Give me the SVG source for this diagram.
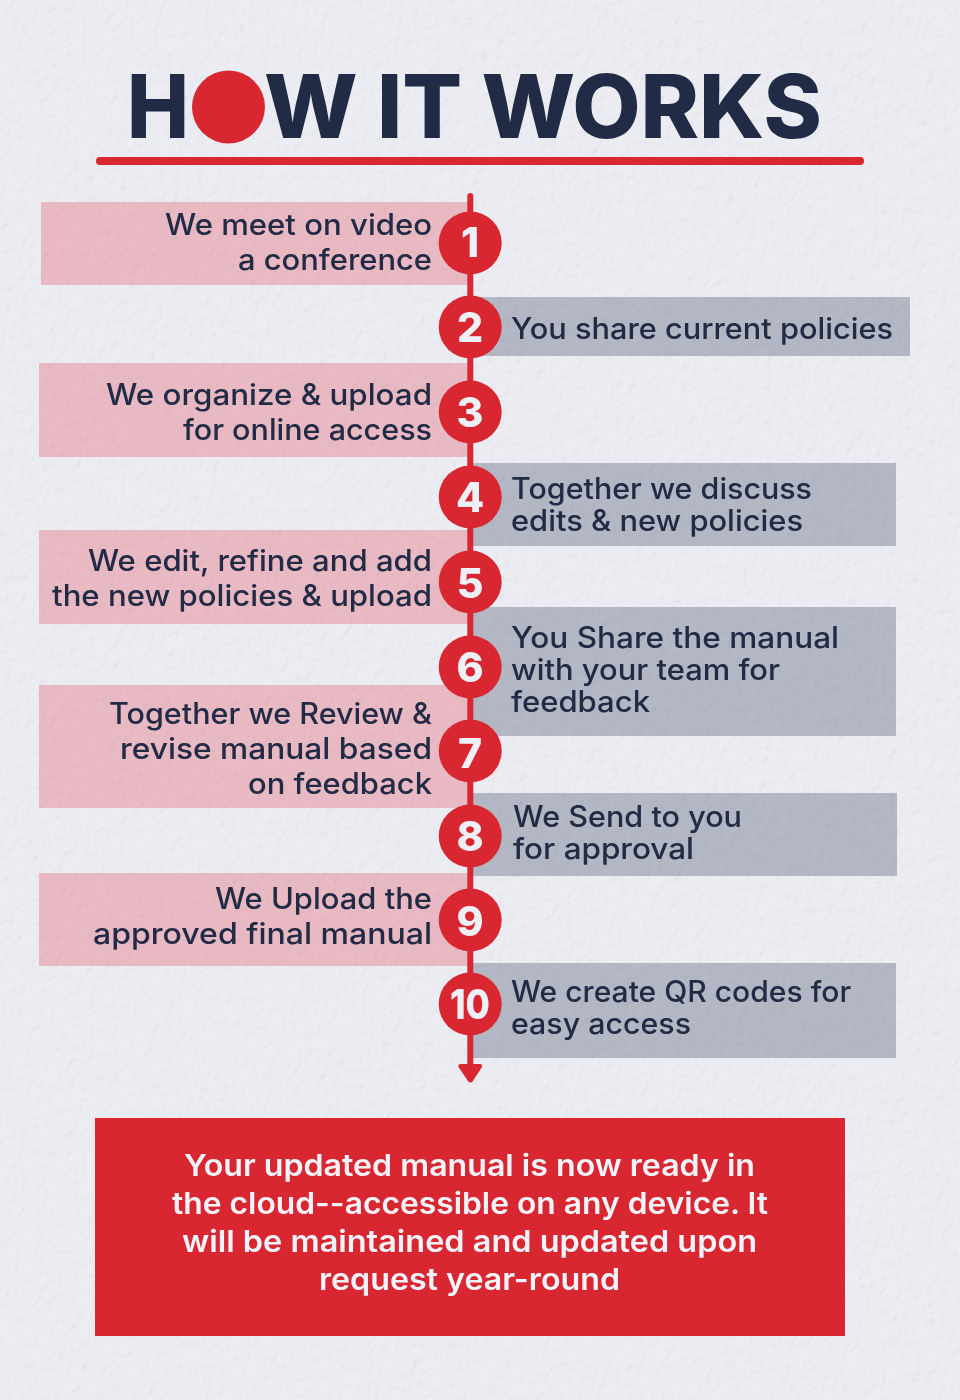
<svg xmlns="http://www.w3.org/2000/svg" width="960" height="1400" viewBox="0 0 960 1400">
<style>
text{font-family:"Inter","Open Sans","Liberation Sans",sans-serif}
.t{font-size:29.500px;font-weight:450;fill:#222b45}
.n{font-size:41px;font-weight:800;fill:#eef0f6;text-anchor:middle}
.f{font-size:30px;font-weight:600;fill:#f2f3f8}
.h{font-size:88px;font-weight:800;fill:#222b45}
.p{fill:#e9bac3}
.g{fill:#b4b8c5}
.c{fill:#d92731}
</style>
<defs>
<filter id="paper" x="0" y="0" width="100%" height="100%">
<feTurbulence type="fractalNoise" baseFrequency="0.13 0.09" numOctaves="3" seed="4"/>
<feDiffuseLighting surfaceScale="0.5" lighting-color="#ffffff" diffuseConstant="1.13"><feDistantLight azimuth="60" elevation="62"/></feDiffuseLighting>
</filter>
</defs>
<rect width="960" height="1400" fill="#ebedf2"/>
<g id="bands">
<rect class="p" x="41" y="202" width="429" height="83"/>
<rect class="g" x="470" y="297" width="440" height="59"/>
<rect class="p" x="39" y="363" width="431" height="94"/>
<rect class="g" x="470" y="463" width="426" height="83"/>
<rect class="p" x="39" y="530" width="431" height="94"/>
<rect class="g" x="470" y="607" width="426" height="129"/>
<rect class="p" x="39" y="685" width="431" height="123"/>
<rect class="g" x="470" y="793" width="427" height="83"/>
<rect class="p" x="39" y="873" width="431" height="93"/>
<rect class="g" x="470" y="963" width="426" height="95"/>
</g>
<rect width="960" height="1400" filter="url(#paper)" style="mix-blend-mode:multiply"/>
<g id="title">
<text class="h" x="127" y="138" textLength="62" lengthAdjust="spacingAndGlyphs">H</text>
<circle class="c" cx="228.500" cy="107" r="36.500"/>
<text class="h" x="264" y="138" textLength="558" lengthAdjust="spacingAndGlyphs">W IT WORKS</text>
<rect class="c" x="96" y="157" width="768" height="8" rx="4"/>
</g>
<g id="connectors">
<path d="M470.300 196V1070" stroke="#d92731" stroke-width="6" stroke-linecap="round" fill="none"/>
<path d="M460.500 1064H480a2.200 2.200 0 0 1 1.700 3.600L472.500 1081.500a2.600 2.600 0 0 1-4.200 0L458.800 1067.600a2.200 2.200 0 0 1 1.700-3.600Z" fill="#d92731"/>
</g>
<g id="step1"><circle class="c" cx="470.200" cy="243" r="31.500"/><text class="n" x="470" y="257">1</text>
<text class="t" x="165" y="234.500" textLength="267" lengthAdjust="spacingAndGlyphs">We meet on video</text><text class="t" x="238" y="269.500" textLength="194" lengthAdjust="spacingAndGlyphs">a conference</text></g>
<g id="step2"><circle class="c" cx="470.200" cy="327" r="31.500"/><text class="n" x="470" y="342">2</text>
<text class="t" x="511" y="339" textLength="382" lengthAdjust="spacingAndGlyphs">You share current policies</text></g>
<g id="step3"><circle class="c" cx="470.200" cy="412" r="31.500"/><text class="n" x="470" y="427">3</text>
<text class="t" x="106" y="404.500" textLength="326" lengthAdjust="spacingAndGlyphs">We organize &amp; upload</text><text class="t" x="183" y="439.500" textLength="249" lengthAdjust="spacingAndGlyphs">for online access</text></g>
<g id="step4"><circle class="c" cx="470.200" cy="497" r="31.500"/><text class="n" x="470" y="512">4</text>
<text class="t" x="511" y="499" textLength="301" lengthAdjust="spacingAndGlyphs">Together we discuss</text><text class="t" x="511" y="531" textLength="292" lengthAdjust="spacingAndGlyphs">edits &amp; new policies</text></g>
<g id="step5"><circle class="c" cx="470.200" cy="582" r="31.500"/><text class="n" x="470" y="598">5</text>
<text class="t" x="88" y="570.500" textLength="344" lengthAdjust="spacingAndGlyphs">We edit, refine and add</text><text class="t" x="52" y="605.500" textLength="380" lengthAdjust="spacingAndGlyphs">the new policies &amp; upload</text></g>
<g id="step6"><circle class="c" cx="470.200" cy="667" r="31.500"/><text class="n" x="470" y="682">6</text>
<text class="t" x="511" y="648" textLength="328" lengthAdjust="spacingAndGlyphs">You Share the manual</text><text class="t" x="511" y="680" textLength="269" lengthAdjust="spacingAndGlyphs">with your team for</text><text class="t" x="511" y="712" textLength="139" lengthAdjust="spacingAndGlyphs">feedback</text></g>
<g id="step7"><circle class="c" cx="470.200" cy="751" r="31.500"/><text class="n" x="470" y="768">7</text>
<text class="t" x="109" y="723.500" textLength="323" lengthAdjust="spacingAndGlyphs">Together we Review &amp;</text><text class="t" x="120" y="758.500" textLength="312" lengthAdjust="spacingAndGlyphs">revise manual based</text><text class="t" x="248" y="793.500" textLength="184" lengthAdjust="spacingAndGlyphs">on feedback</text></g>
<g id="step8"><circle class="c" cx="470.200" cy="836" r="31.500"/><text class="n" x="470" y="851">8</text>
<text class="t" x="513" y="827" textLength="229" lengthAdjust="spacingAndGlyphs">We Send to you</text><text class="t" x="513" y="859" textLength="181" lengthAdjust="spacingAndGlyphs">for approval</text></g>
<g id="step9"><circle class="c" cx="470.200" cy="920" r="31.500"/><text class="n" x="470" y="936">9</text>
<text class="t" x="215" y="908.500" textLength="217" lengthAdjust="spacingAndGlyphs">We Upload the</text><text class="t" x="93" y="943.500" textLength="339" lengthAdjust="spacingAndGlyphs">approved final manual</text></g>
<g id="step10"><circle class="c" cx="470.200" cy="1004" r="31.500"/><text class="n" x="470" y="1019" textLength="40" lengthAdjust="spacingAndGlyphs">10</text>
<text class="t" x="511" y="1002" textLength="340" lengthAdjust="spacingAndGlyphs">We create QR codes for</text><text class="t" x="511" y="1034" textLength="180" lengthAdjust="spacingAndGlyphs">easy access</text></g>
<g id="summary">
<rect class="c" x="95" y="1118" width="750" height="218"/>
<text class="f" x="184" y="1176" textLength="571" lengthAdjust="spacingAndGlyphs">Your updated manual is now ready in</text>
<text class="f" x="172" y="1214" textLength="596" lengthAdjust="spacingAndGlyphs">the cloud--accessible on any device. It</text>
<text class="f" x="182" y="1252" textLength="575" lengthAdjust="spacingAndGlyphs">will be maintained and updated upon</text>
<text class="f" x="319" y="1290" textLength="301" lengthAdjust="spacingAndGlyphs">request year-round</text>
</g>
</svg>
